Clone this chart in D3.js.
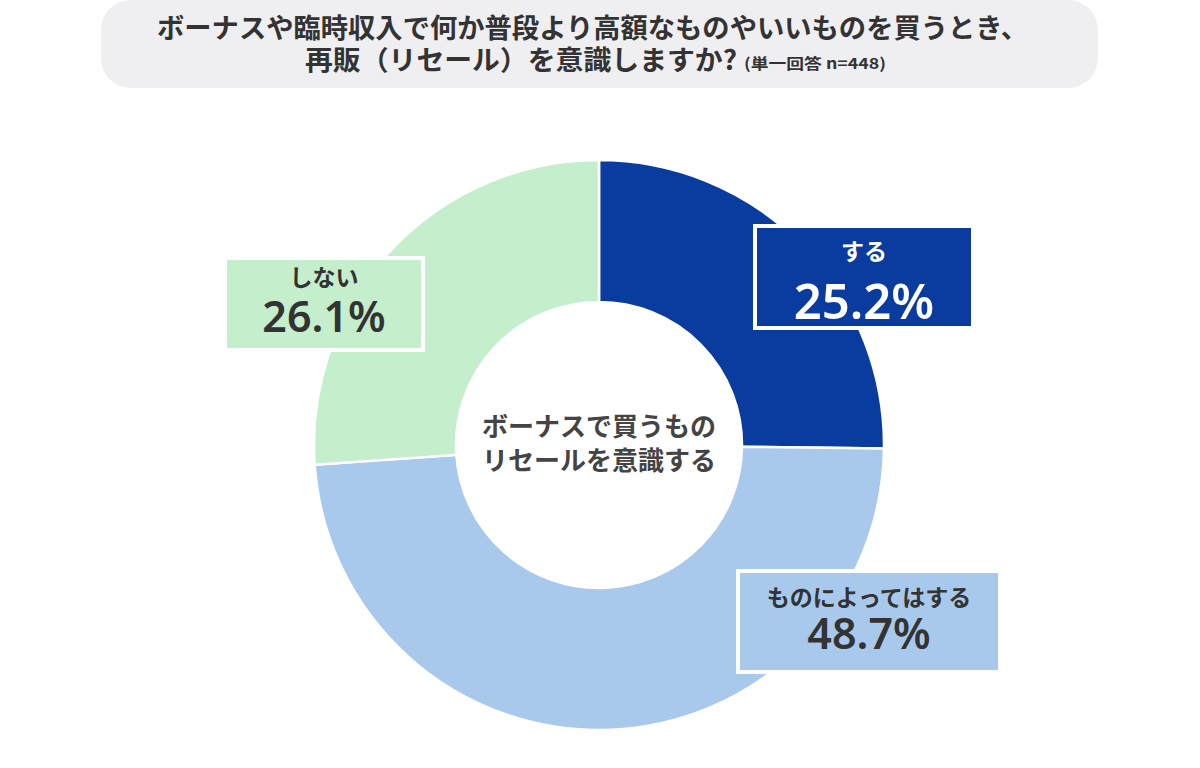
<!DOCTYPE html>
<html><head><meta charset="utf-8">
<script src="https://cdn.jsdelivr.net/npm/d3@7"></script>
<style>
html,body{margin:0;padding:0;background:#fff;}
svg text{font-family:"Noto Sans CJK JP","Noto Sans",sans-serif;font-weight:700;}
</style></head>
<body>
<svg id="chart" width="1200" height="768"></svg>
<script>
const categories = ["する", "ものによってはする", "しない"];
const values = [25.2, 48.7, 26.1];
const colors = ["#0a3c9f", "#a9c9ec", "#c4eecc"];
const titleLine1 = "ボーナスや臨時収入で何か普段より高額なものやいいものを買うとき、";
const titleLine2 = "再販（リセール）を意識しますか?";
const titleNote = "(単一回答 n=448)";
const centerLines = ["ボーナスで買うもの", "リセールを意識する"];

const svg = d3.select("#chart");
const cx = 599, cy = 445, outerR = 285, innerR = 143;

// title box
svg.append("rect").attr("x", 101).attr("y", 0).attr("width", 997).attr("height", 88)
  .attr("rx", 30).attr("fill", "#efeef1");
svg.append("text").attr("x", 157).attr("y", 38)
  .attr("font-size", 27).attr("fill", "#333")
  .attr("textLength", 871).attr("lengthAdjust", "spacingAndGlyphs")
  .text(titleLine1);
svg.append("text").attr("x", 305).attr("y", 70)
  .attr("font-size", 27).attr("fill", "#333")
  .attr("textLength", 432).attr("lengthAdjust", "spacingAndGlyphs")
  .text(titleLine2);
svg.append("text").attr("x", 744).attr("y", 69)
  .attr("font-size", 15).attr("fill", "#333")
  .attr("textLength", 142).attr("lengthAdjust", "spacingAndGlyphs")
  .text(titleNote);

// donut
const pie = d3.pie().sort(null).value(d => d)(values);
const arc = d3.arc().innerRadius(innerR).outerRadius(outerR);
const g = svg.append("g").attr("transform", `translate(${cx},${cy})`);
g.selectAll("path").data(pie).join("path")
  .attr("d", arc)
  .attr("fill", (d, i) => colors[i])
  .attr("stroke", "#fff").attr("stroke-width", 2.5);

// center text
g.selectAll("text.center").data(centerLines).join("text")
  .attr("class", "center")
  .attr("text-anchor", "middle")
  .attr("x", 0)
  .attr("y", (d, i) => -9 + i * 34)
  .attr("font-size", 26).attr("fill", "#444")
  .text(d => d);

// label boxes
const boxes = [
  {x: 755, y: 226, w: 218, h: 102, name: 0, fs1: 23, fs2: 49, y1: 260, y2: 319, fill: colors[0], tc: "#fff"},
  {x: 738, y: 571, w: 262, h: 101, name: 1, fs1: 23, fs2: 43, y1: 606, y2: 649, fill: colors[1], tc: "#333"},
  {x: 225, y: 258, w: 198, h: 92, name: 2, fs1: 23, fs2: 43, y1: 286, y2: 332, fill: colors[2], tc: "#333"}
];
boxes.forEach(b => {
  svg.append("rect").attr("x", b.x).attr("y", b.y).attr("width", b.w).attr("height", b.h)
    .attr("fill", b.fill).attr("stroke", "#fff").attr("stroke-width", 4);
  const mx = b.x + b.w / 2;
  svg.append("text").attr("x", mx).attr("y", b.y1).attr("text-anchor", "middle")
    .attr("font-size", b.fs1).attr("fill", b.tc).text(categories[b.name]);
  svg.append("text").attr("x", mx).attr("y", b.y2).attr("text-anchor", "middle")
    .attr("font-size", b.fs2).attr("fill", b.tc)
    .style("font-family", "'Noto Sans','Noto Sans CJK JP',sans-serif")
    .style("font-weight", 600)
    .text(d3.format(".1f")(values[b.name]) + "%");
});
</script>
</body></html>
